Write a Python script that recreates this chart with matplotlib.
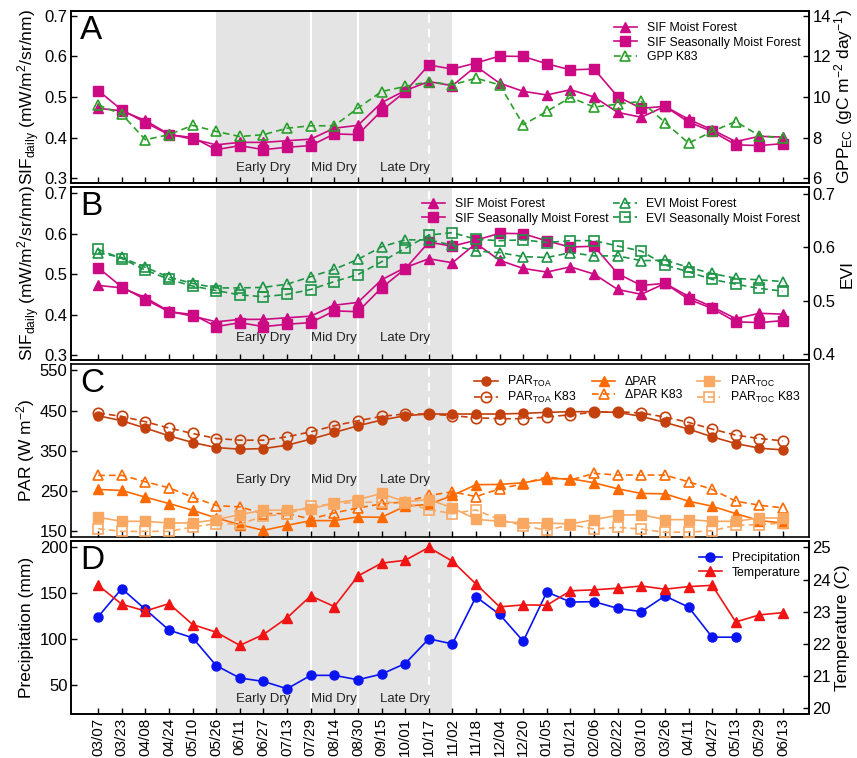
import matplotlib
matplotlib.use("Agg")
import matplotlib.pyplot as plt
import numpy as np

plt.rcParams['font.family'] = ['Liberation Sans', 'DejaVu Sans']
plt.rcParams['mathtext.fontset'] = 'custom'
plt.rcParams['mathtext.rm'] = 'Liberation Sans'
plt.rcParams['mathtext.it'] = 'Liberation Sans:italic'
plt.rcParams['mathtext.bf'] = 'Liberation Sans:bold'

dates = ['03/07', '03/23', '04/08', '04/24', '05/10', '05/26', '06/11', '06/27', '07/13', '07/29',
         '08/14', '08/30', '09/15', '10/01', '10/17', '11/02', '11/18', '12/04', '12/20', '01/05',
         '01/21', '02/06', '02/22', '03/10', '03/26', '04/11', '04/27', '05/13', '05/29', '06/13']

sif_moist = [0.472, 0.466, 0.442, 0.408, 0.396, 0.382, 0.388, 0.388, 0.392, 0.396,
             0.423, 0.430, 0.486, 0.516, 0.538, 0.528, 0.576, 0.534, 0.514, 0.505,
             0.518, 0.500, 0.462, 0.450, 0.477, 0.445, 0.419, 0.390, 0.403, 0.401]
sif_seas = [0.516, 0.468, 0.437, 0.407, 0.400, 0.370, 0.380, 0.370, 0.376, 0.380,
            0.409, 0.407, 0.466, 0.513, 0.579, 0.569, 0.584, 0.601, 0.600, 0.582,
            0.567, 0.569, 0.501, 0.472, 0.477, 0.438, 0.415, 0.382, 0.380, 0.385]
gpp_k83 = [9.61, 9.15, 7.89, 8.14, 8.60, 8.30, 8.05, 8.14, 8.46, 8.58,
           8.58, 9.45, 10.27, 10.52, 10.76, 10.60, 10.93, 10.60, 8.63, 9.29,
           9.98, 9.50, 9.65, 9.78, 8.74, 7.72, 8.30, 8.79, 8.09, 7.97]

evi_moist = [0.590, 0.581, 0.5625, 0.544, 0.5325, 0.524, 0.524, 0.525, 0.531, 0.545,
             0.559, 0.5775, 0.601, 0.614, 0.614, 0.604, 0.593, 0.590, 0.5825, 0.581,
             0.590, 0.584, 0.584, 0.575, 0.576, 0.5625, 0.551, 0.542, 0.539, 0.536]
evi_seas = [0.596, 0.579, 0.5575, 0.540, 0.5275, 0.519, 0.511, 0.5075, 0.512, 0.521,
            0.536, 0.549, 0.573, 0.598, 0.623, 0.6275, 0.615, 0.6125, 0.614, 0.609,
            0.6125, 0.6125, 0.6025, 0.593, 0.567, 0.554, 0.540, 0.531, 0.523, 0.518]

par_toa = [437.5, 425, 406.7, 387.5, 370.8, 358.3, 354.2, 355.8, 364.2, 379.2,
           395.8, 412.5, 426.7, 437.5, 441.7, 441.7, 441.7, 441.7, 443.3, 445.8,
           447.5, 447.5, 445.8, 435.8, 420.8, 404.2, 385, 368.3, 356.7, 352.5]
par_toa_k83 = [444.2, 435.8, 422.5, 406.7, 393.3, 380.8, 376.7, 376.7, 385, 397.5,
               412.5, 425, 435.8, 441.7, 441.7, 437.5, 432.5, 430, 430, 434.2,
               440, 445.8, 447.5, 444.2, 434.2, 420.8, 404.2, 389.2, 380.8, 375]
dpar = [254.2, 251.7, 235, 219.2, 202.5, 183.3, 166.7, 152.5, 165, 176.7,
        176.7, 185.8, 185, 212.5, 217, 239.2, 266, 266.7, 270.8, 280.8,
        280.8, 270.8, 255.8, 244.2, 243.3, 225, 212.5, 194.2, 176.7, 170.8]
dpar_k83 = [289.2, 289.2, 273.3, 258.3, 235, 214.2, 210.8, 194.2, 194.2, 180.8,
            195.8, 208.3, 218.3, 223.3, 239.2, 248.3, 236.5, 255.8, 268.3, 285.8,
            277.5, 294.2, 290, 290, 290, 273.3, 254.2, 225, 215, 208.3]
par_toc = [185, 175, 175, 170.8, 170.8, 179.2, 191.7, 202.5, 202.5, 205.8,
           220.8, 229.2, 244.2, 223.3, 229.2, 208.3, 180, 175, 170.8, 170.8,
           168.3, 179.2, 190, 191.7, 179.2, 179.2, 175, 175, 183.3, 183.3]
par_toc_k83 = [156.7, 150, 150, 150, 160.8, 169.2, 168.3, 187.5, 193.3, 212.5,
               218.3, 222.5, 222.5, 220.8, 204.2, 194.2, 203.3, 179.2, 164.2, 152.5,
               166.7, 155.8, 160, 155.8, 147.5, 148.3, 151.7, 165, 166.7, 170.8]

precip = [124.5, 155.1, 132.5, 109.9, 101.5, 71.2, 57.7, 54.0, 46.0, 60.6,
          60.6, 55.8, 62.0, 73.4, 100.4, 94.9, 146.2, 127, 97.8, 151.5,
          140.5, 140.9, 133.6, 130, 147.1, 135, 102.2, 102.2, np.nan, np.nan]
temperature = [23.82, 23.23, 23.02, 23.25, 22.60, 22.36, 21.95, 22.29, 22.81, 23.49,
               23.16, 24.11, 24.51, 24.60, 25.0, 24.57, 23.86, 23.15, 23.21, 23.20,
               23.65, 23.68, 23.73, 23.80, 23.70, 23.78, 23.82, 22.68, 22.90, 22.97]

season_labels = ['Early Dry', 'Mid Dry', 'Late Dry']
season_label_x = [7, 10, 13]

x = np.arange(len(dates))

C_SIF = '#cc0a84'
C_GPP = '#2aa02a'
C_EVI = '#1e9446'
C_TOA = '#c4400c'
C_DPAR = '#ff6a00'
C_TOC = '#f9a862'
C_PRE = '#0a14f0'
C_TMP = '#f01414'

fig = plt.figure(figsize=(8.57, 7.58), dpi=100)
L = 71 / 857
W = (809 - 71) / 857
def pos(top, bot):
    return [L, 1 - bot / 758, W, (bot - top) / 758]

axA = fig.add_axes(pos(11, 183))
axB = fig.add_axes(pos(187, 360))
axC = fig.add_axes(pos(364, 537))
axD = fig.add_axes(pos(541, 714))

XLIM = (-1.15, 30.1)
LEGFS = 8.8
YLFS = 12.5

def style(ax):
    ax.tick_params(direction='in', length=4, width=1, labelsize=12, pad=2.5)
    for s in ax.spines.values():
        s.set_linewidth(1.2)

def shade(ax, ylab, ytext):
    ax.axvspan(5, 15, color='#e4e4e4', zorder=0, lw=0)
    ax.axvline(9, color='white', lw=1.5, zorder=0.5)
    ax.axvline(11, color='white', lw=1.5, zorder=0.5)
    ax.axvline(14, color='white', lw=1.5, ls=(0, (4, 3)), zorder=0.5)
    for lab, xx in zip(season_labels, season_label_x):
        ax.text(xx, ytext, lab, ha='center', va='center', fontsize=9.5, color='#222222', zorder=1)
    ax.set_xlim(*XLIM)
    ax.set_xticks(x)
    ax.text(0.012, 0.975, ylab, transform=ax.transAxes, fontsize=24, va='top', ha='left')

dash = (0, (4, 2.5))
lw = 1.2
ms = 6.5

legkw = dict(frameon=False, fontsize=LEGFS, handlelength=1.9, handletextpad=0.8,
             labelspacing=0.2, borderaxespad=0.3, numpoints=1)

# Panel A
shade(axA, 'A', 0.325)
axA.plot(x, sif_moist, color=C_SIF, marker='^', lw=lw, ms=ms, label='SIF Moist Forest', zorder=3)
axA.plot(x, sif_seas, color=C_SIF, marker='s', lw=lw, ms=ms, label='SIF Seasonally Moist Forest', zorder=3)
axA.set_ylim(0.2877, 0.7123)
axA.set_yticks([0.3, 0.4, 0.5, 0.6, 0.7])
axA.set_ylabel(r'SIF$_{\mathrm{daily}}$ (mW/m$^2$/sr/nm)', fontsize=YLFS, labelpad=2)
axA2 = axA.twinx()
axA2.plot(x, gpp_k83, color=C_GPP, marker='^', mfc='none', mew=1.2, ls=dash, lw=lw, ms=ms + 1, label='GPP K83', zorder=2)
axA2.set_ylim(6 + (0.2877 - 0.3) * 20, 6 + (0.7123 - 0.3) * 20)
axA2.set_yticks([6, 8, 10, 12, 14])
axA2.set_ylabel(r'GPP$_{\mathrm{EC}}$ (gC m$^{-2}$ day$^{-1}$)', fontsize=YLFS, labelpad=1)
h1, l1 = axA.get_legend_handles_labels()
h2, l2 = axA2.get_legend_handles_labels()
axA2.legend(h1 + h2, l1 + l2, loc='upper right', bbox_to_anchor=(1.0, 0.985), **legkw)
style(axA); style(axA2)
axA.tick_params(labelbottom=False)

# Panel B
shade(axB, 'B', 0.343)
axB.plot(x, sif_moist, color=C_SIF, marker='^', lw=lw, ms=ms, label='SIF Moist Forest', zorder=3)
axB.plot(x, sif_seas, color=C_SIF, marker='s', lw=lw, ms=ms, label='SIF Seasonally Moist Forest', zorder=3)
axB.set_ylim(0.2875, 0.7155)
axB.set_yticks([0.3, 0.4, 0.5, 0.6, 0.7])
axB.set_ylabel(r'SIF$_{\mathrm{daily}}$ (mW/m$^2$/sr/nm)', fontsize=YLFS, labelpad=2)
axB2 = axB.twinx()
axB2.plot(x, evi_moist, color=C_EVI, marker='^', mfc='none', mew=1.2, ls=dash, lw=lw, ms=ms + 1, label='EVI Moist Forest', zorder=2)
axB2.plot(x, evi_seas, color=C_EVI, marker='s', mfc='none', mew=1.2, ls=dash, lw=lw, ms=ms, label='EVI Seasonally Moist Forest', zorder=2)
axB2.set_ylim(0.389, 0.713)
axB2.set_yticks([0.4, 0.5, 0.6, 0.7])
axB2.set_ylabel('EVI', fontsize=YLFS, labelpad=3)
h1, l1 = axB.get_legend_handles_labels()
h2, l2 = axB2.get_legend_handles_labels()
axB2.legend(h1 + h2, l1 + l2, loc='upper right', bbox_to_anchor=(1.0, 0.985), ncol=2,
            columnspacing=0.4, **legkw)
style(axB); style(axB2)
axB.tick_params(labelbottom=False)

# Panel C
shade(axC, 'C', 278)
axC.plot(x, par_toa, color=C_TOA, marker='o', lw=lw, ms=ms, label=r'PAR$_{\mathrm{TOA}}$', zorder=3)
axC.plot(x, par_toa_k83, color=C_TOA, marker='o', mfc='none', mew=1.2, ls=dash, lw=lw, ms=ms + 1, label=r'PAR$_{\mathrm{TOA}}$ K83', zorder=3)
axC.plot(x, dpar, color=C_DPAR, marker='^', lw=lw, ms=ms, label='\u0394PAR', zorder=3)
axC.plot(x, dpar_k83, color=C_DPAR, marker='^', mfc='none', mew=1.2, ls=dash, lw=lw, ms=ms + 1, label='\u0394PAR K83', zorder=3)
axC.plot(x, par_toc, color=C_TOC, marker='s', lw=lw, ms=ms, label=r'PAR$_{\mathrm{TOC}}$', zorder=3)
axC.plot(x, par_toc_k83, color=C_TOC, marker='s', mfc='none', mew=1.2, ls=dash, lw=lw, ms=ms, label=r'PAR$_{\mathrm{TOC}}$ K83', zorder=3)
axC.set_ylim(136, 566)
axC.set_yticks([150, 250, 350, 450, 550])
axC.set_ylabel(r'PAR (W m$^{-2}$)', fontsize=YLFS, labelpad=2)
legC = dict(legkw)
legC['labelspacing'] = 0.05
axC.legend(loc='upper right', bbox_to_anchor=(1.0, 0.99), ncol=3, columnspacing=1.2, **legC)
style(axC)
axC.tick_params(labelbottom=False)

# Panel D
shade(axD, 'D', 35)
axD.plot(x, precip, color=C_PRE, marker='o', lw=lw, ms=ms, label='Precipitation', zorder=3)
axD.set_ylim(18.5, 207)
axD.set_yticks([50, 100, 150, 200])
axD.set_ylabel('Precipitation (mm)', fontsize=YLFS, labelpad=4)
axD2 = axD.twinx()
axD2.plot(x, temperature, color=C_TMP, marker='^', lw=lw, ms=ms + 0.5, label='Temperature', zorder=3)
axD2.set_ylim(20 + (18.5 - 25) / 35, 20 + (207 - 25) / 35)
axD2.set_yticks([20, 21, 22, 23, 24, 25])
axD2.set_ylabel('Temperature (C)', fontsize=YLFS, labelpad=3)
h1, l1 = axD.get_legend_handles_labels()
h2, l2 = axD2.get_legend_handles_labels()
axD2.legend(h1 + h2, l1 + l2, loc='upper right', bbox_to_anchor=(1.0, 0.985), **legkw)
style(axD); style(axD2)
axD.set_xticklabels(dates, rotation=90, fontsize=11)

fig.savefig('out.png', dpi=100)
